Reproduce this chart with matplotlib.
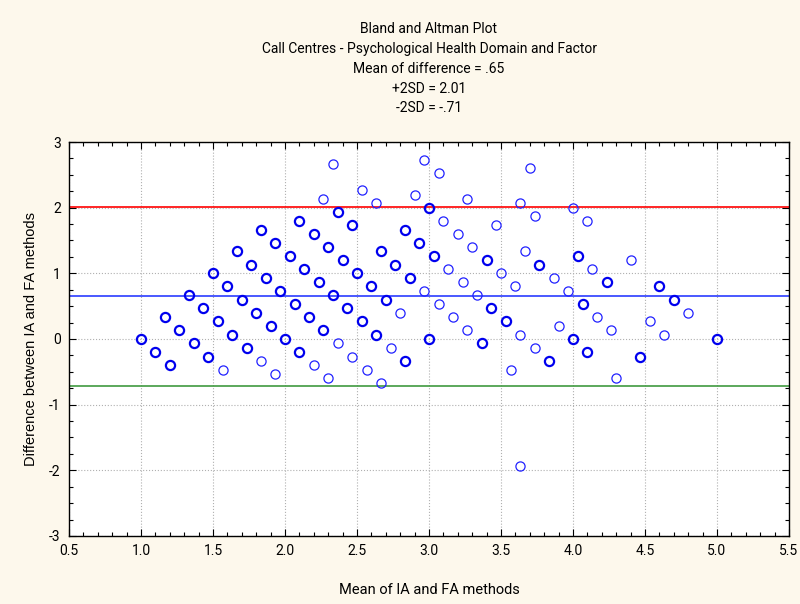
import numpy as np
import matplotlib
matplotlib.use("Agg")
import matplotlib.pyplot as plt
from matplotlib.ticker import MultipleLocator

# mean of the two methods, difference (IA - FA), number of cases at that point
mean_ia_fa = [
    1.0, 1.1, 1.2,
    1.167, 1.267, 1.367, 1.467, 1.567,
    1.333, 1.433, 1.533, 1.633, 1.733, 1.833, 1.933,
    1.5, 1.6, 1.7, 1.8, 1.9, 2.0, 2.1, 2.2, 2.3,
    1.667, 1.767, 1.867, 1.967, 2.067, 2.167, 2.267, 2.367, 2.467, 2.567, 2.667,
    1.833, 1.933, 2.033, 2.133, 2.233, 2.333, 2.433, 2.533, 2.633, 2.733, 2.833, 3.633,
    2.1, 2.2, 2.3, 2.4, 2.5, 2.6, 2.7, 2.8, 3.0,
    2.267, 2.367, 2.467, 2.667, 2.767, 2.867, 2.967, 3.067, 3.167, 3.267, 3.367, 3.567,
    2.333, 2.533, 2.633, 2.833, 2.933, 3.033, 3.133, 3.233, 3.333, 3.433, 3.533, 3.633, 3.733, 3.833,
    2.9, 3.0, 3.1, 3.2, 3.3, 3.4, 3.5, 3.6, 3.9, 4.0, 4.1, 4.3,
    2.967, 3.067, 3.267, 3.467, 3.667, 3.767, 3.867, 3.967, 4.067, 4.167, 4.267, 4.467,
    3.633, 3.733, 4.033, 4.133, 4.233, 4.533, 4.633,
    3.7, 4.0, 4.1, 4.4, 4.6, 4.7, 4.8, 5.0,
]
diff_ia_fa = [
    0.0, -0.2, -0.4,
    0.333, 0.133, -0.067, -0.267, -0.467,
    0.667, 0.467, 0.267, 0.067, -0.133, -0.333, -0.533,
    1.0, 0.8, 0.6, 0.4, 0.2, 0.0, -0.2, -0.4, -0.6,
    1.333, 1.133, 0.933, 0.733, 0.533, 0.333, 0.133, -0.067, -0.267, -0.467, -0.667,
    1.667, 1.467, 1.267, 1.067, 0.867, 0.667, 0.467, 0.267, 0.067, -0.133, -0.333, -1.933,
    1.8, 1.6, 1.4, 1.2, 1.0, 0.8, 0.6, 0.4, 0.0,
    2.133, 1.933, 1.733, 1.333, 1.133, 0.933, 0.733, 0.533, 0.333, 0.133, -0.067, -0.467,
    2.667, 2.267, 2.067, 1.667, 1.467, 1.267, 1.067, 0.867, 0.667, 0.467, 0.267, 0.067, -0.133, -0.333,
    2.2, 2.0, 1.8, 1.6, 1.4, 1.2, 1.0, 0.8, 0.2, 0.0, -0.2, -0.6,
    2.733, 2.533, 2.133, 1.733, 1.333, 1.133, 0.933, 0.733, 0.533, 0.333, 0.133, -0.267,
    2.067, 1.867, 1.267, 1.067, 0.867, 0.267, 0.067,
    2.6, 2.0, 1.8, 1.2, 0.8, 0.6, 0.4, 0.0,
]
n_cases = [
    2, 2, 2,
    2, 2, 2, 2, 1,
    2, 2, 2, 2, 2, 1, 1,
    2, 2, 2, 2, 2, 2, 2, 1, 1,
    2, 2, 2, 2, 2, 2, 2, 1, 1, 1, 1,
    2, 2, 2, 2, 2, 2, 2, 2, 2, 1, 2, 1,
    2, 2, 2, 2, 2, 2, 2, 1, 2,
    1, 2, 2, 2, 2, 2, 1, 1, 1, 1, 2, 1,
    1, 1, 1, 2, 2, 2, 1, 1, 1, 2, 2, 1, 1, 2,
    1, 2, 1, 1, 1, 2, 1, 1, 1, 2, 2, 1,
    1, 1, 1, 1, 1, 2, 1, 1, 2, 1, 1, 2,
    1, 1, 2, 1, 2, 1, 1,
    1, 1, 1, 1, 2, 2, 1, 2,
]

mean_diff = 0.65
upper_2sd = 2.01
lower_2sd = -0.71

title_lines = [
    "Bland and Altman Plot",
    "Call Centres - Psychological Health Domain and Factor",
    "Mean of difference = .65",
    "+2SD = 2.01",
    "-2SD = -.71",
]

narrow = ["Roboto", "Liberation Sans", "DejaVu Sans"]
regular = ["Liberation Sans", "DejaVu Sans"]

x = np.array(mean_ia_fa)
y = np.array(diff_ia_fa)
n = np.array(n_cases)

fig = plt.figure(figsize=(8.0, 6.04), dpi=100, facecolor="#fdf8ec")
ax = fig.add_axes([0.08625, 0.1126, 0.9, 0.6523])
ax.set_facecolor("white")

ax.axhline(upper_2sd, color="#ff0000", lw=1.2, zorder=2)
ax.axhline(mean_diff, color="#2b3cff", lw=1.2, zorder=2)
ax.axhline(lower_2sd, color="#3f9a3f", lw=1.2, zorder=2)

# single cases get a thin ring, repeated cases a heavier one
single = n == 1
ax.plot(x[single], y[single], "o", ms=6.6, mfc="none", mec="#2222ff",
        mew=0.9, zorder=3)
ax.plot(x[~single], y[~single], "o", ms=6.6, mfc="none", mec="#0000ee",
        mew=1.6, zorder=3)

ax.set_xlim(0.5, 5.5)
ax.set_ylim(-3, 3)
ax.xaxis.set_minor_locator(MultipleLocator(0.1))
ax.yaxis.set_minor_locator(MultipleLocator(0.25))
ax.set_xticks(np.arange(0.5, 5.51, 0.5))
ax.set_xticklabels(["%.1f" % v for v in np.arange(0.5, 5.51, 0.5)],
                   family=narrow, fontsize=10)
ax.set_yticks(np.arange(-3, 4, 1))
ax.set_yticklabels(["%d" % v for v in np.arange(-3, 4, 1)],
                   family=narrow, fontsize=10)
ax.tick_params(which="both", direction="in", top=True, right=True,
               width=0.8, color="black")
ax.tick_params(which="major", length=5, pad=6)
ax.tick_params(which="minor", length=3)
ax.grid(True, which="major", color="#b0b0b0", ls=":", lw=0.8, zorder=1)
for s in ax.spines.values():
    s.set_linewidth(1.0)

ax.set_xlabel("Mean of IA and FA methods", family=narrow, fontsize=10.5,
              labelpad=18)
ax.set_ylabel("Difference between IA and FA methods", family=regular,
              fontsize=10.5, labelpad=8)

title_y = [29, 49, 69, 89, 108]
for txt, py in zip(title_lines, title_y):
    fig.text(429 / 800, 1 - py / 604, txt, ha="center", va="center",
             family=narrow, fontsize=10)

fig.savefig("out.png", dpi=100, facecolor=fig.get_facecolor())
